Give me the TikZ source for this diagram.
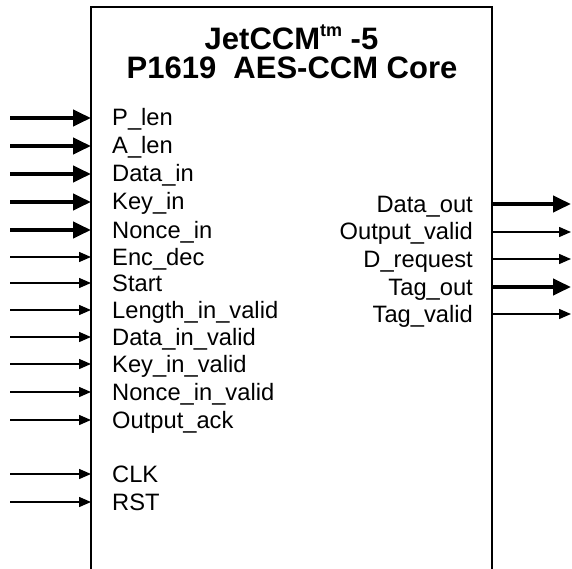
\documentclass[tikz,border=0pt]{standalone}
\usepackage{fontspec}
\setmainfont{Liberation Sans}
\usetikzlibrary{arrows.meta}
\begin{document}
\begin{tikzpicture}[x=1pt,y=-1pt,
  boxline/.style={line width=1.5pt},
  thickarrow/.style={line width=4pt,-{Triangle[length=18pt,width=16pt]}},
  thinarrow/.style={line width=1.4pt,-{Triangle[length=12pt,width=10pt]}},
  inlabel/.style={anchor=base west,inner sep=0pt,font=\fontsize{23.7}{27}\selectfont},
  outlabel/.style={anchor=base east,inner sep=0pt,font=\fontsize{23.7}{27}\selectfont},
  titlefont/.style={anchor=base,inner sep=0pt,font=\fontsize{31}{27}\selectfont\bfseries}]
\useasboundingbox (0,0) rectangle (572,569);
% block outline (open at the bottom)
\coordinate (bl) at (91,575);
\coordinate (tl) at (91,7);
\coordinate (tr) at (492,7);
\coordinate (br) at (492,575);
\draw[boxline] (bl) -- (tl) -- (tr) -- (br);
% title
\node[titlefont] (title1) at (291.5,50) {JetCCM\raisebox{0.42em}{\fontsize{18}{18}\selectfont tm} -5};
\node[titlefont] (title2) at (292,79) {P1619\ \ AES-CCM Core};
% inputs
\foreach \y/\name/\txt/\sty in {
  118/plen/P\_len/thickarrow,
  146/alen/A\_len/thickarrow,
  174/datain/Data\_in/thickarrow,
  202/keyin/Key\_in/thickarrow,
  230/noncein/Nonce\_in/thickarrow,
  257/encdec/Enc\_dec/thinarrow,
  283/start/Start/thinarrow,
  310/lenvalid/Length\_in\_valid/thinarrow,
  337/datavalid/Data\_in\_valid/thinarrow,
  364/keyvalid/Key\_in\_valid/thinarrow,
  392/noncevalid/Nonce\_in\_valid/thinarrow,
  420/outack/Output\_ack/thinarrow,
  474/clk/CLK/thinarrow,
  502/rst/RST/thinarrow}{
  \coordinate (src-\name) at (10,\y);
  \coordinate (port-\name) at (91,\y);
  \draw[\sty] (src-\name) -- (port-\name);
  \node[inlabel] (lbl-\name) at (112,\y+8) {\txt};
}
% outputs
\foreach \y/\name/\txt/\sty in {
  204/dataout/Data\_out/thickarrow,
  232/outvalid/Output\_valid/thinarrow,
  259/drequest/D\_request/thinarrow,
  287/tagout/Tag\_out/thickarrow,
  314/tagvalid/Tag\_valid/thinarrow}{
  \coordinate (port-\name) at (492,\y);
  \coordinate (dst-\name) at (571,\y);
  \draw[\sty] (port-\name) -- (dst-\name);
  \node[outlabel] (lbl-\name) at (473,\y+8) {\txt};
}
\end{tikzpicture}
\end{document}
